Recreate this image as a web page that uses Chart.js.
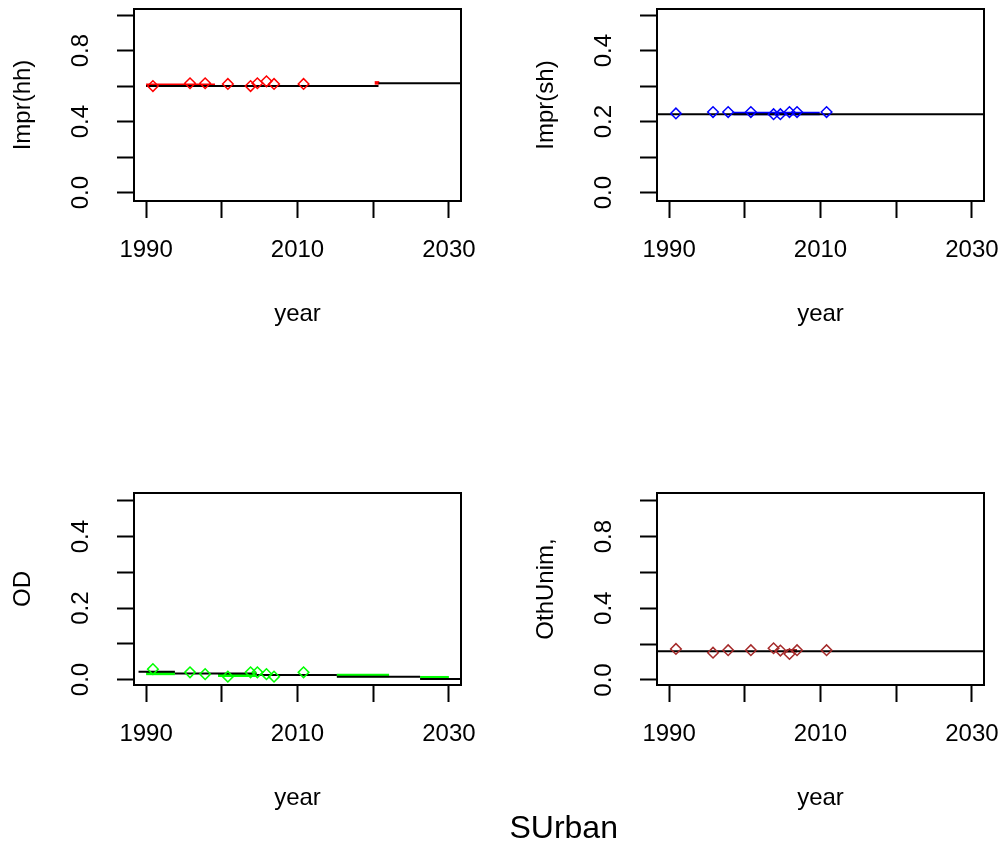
<!DOCTYPE html>
<html>
<head>
<meta charset="utf-8">
<script src="https://cdn.jsdelivr.net/npm/chart.js@4/dist/chart.umd.min.js"></script>
<style>
  html, body { margin: 0; padding: 0; background: #fff; }
  #wrap { position: relative; width: 1002px; height: 845px; overflow: hidden; background: #fff; }
  .panel { position: absolute; width: 479px; height: 345px; }
  #outerTitle {
    position: absolute; left: 463.7px; width: 200px; top: 811px;
    font-family: "Liberation Sans", Arial, sans-serif; font-size: 32px; line-height: 32px;
    text-align: center; color: #000;
  }
</style>
</head>
<body>
<div id="wrap">
  <canvas id="pHH" class="panel" width="479" height="345" style="left:0;top:0"></canvas>
  <canvas id="pSH" class="panel" width="479" height="345" style="left:523px;top:0"></canvas>
  <canvas id="pOD" class="panel" width="479" height="345" style="left:0;top:484px"></canvas>
  <canvas id="pOU" class="panel" width="479" height="345" style="left:523px;top:484px"></canvas>
  <div id="outerTitle">SUrban</div>
</div>
<script>
// Survey years (shared by all four indicators)
const surveyYears = [1990.9, 1995.8, 1997.8, 2000.8, 2003.8, 2004.7, 2005.9, 2006.9, 2010.8];

// Observed shares per indicator
const imprHH  = [0.600, 0.616, 0.616, 0.612, 0.600, 0.616, 0.627, 0.612, 0.612];
const imprSH  = [0.223, 0.227, 0.227, 0.227, 0.221, 0.221, 0.227, 0.227, 0.227];
const odShare = [0.029, 0.020, 0.015, 0.008, 0.020, 0.020, 0.015, 0.008, 0.020];
const othUnim = [0.173, 0.152, 0.166, 0.166, 0.177, 0.164, 0.145, 0.166, 0.166];

// Fitted trend pieces, each [fromYear, toYear, level]
const imprHHTrend = [[1990.0, 2020.7, 0.600], [2020.7, 2031.6, 0.616]];
const imprHHFit   = [[1990.0, 1999.1, 0.604], [2020.2, 2020.8, 0.618]];
const imprSHTrend = [[1988.4, 2031.6, 0.221]];
const imprSHFit   = [[1998.5, 2009.9, 0.223]];
const odTrend     = [[1989.0, 1993.8, 0.022], [1993.8, 2004.6, 0.017], [2004.6, 2015.2, 0.0126],
                     [2015.2, 2026.2, 0.0078], [2026.2, 2031.6, 0.0014]];
const odFit       = [[1990.0, 1993.8, 0.017], [1999.5, 2004.6, 0.0118], [2015.2, 2022.1, 0.011],
                     [2026.2, 2030.0, 0.005]];
const othTrend    = [[1988.4, 2031.6, 0.160]];
const othFit      = [[2005.5, 2006.9, 0.163]];

// Axis ticks and their printed labels
const yearTicks       = [1990, 2000, 2010, 2020, 2030];
const yearTickLabels  = ['1990', '', '2010', '', '2030'];
const unitTicks       = [0, 0.2, 0.4, 0.6, 0.8, 1.0];
const unitTickLabels  = ['0.0', '', '0.4', '', '0.8', ''];
const halfTicks       = [0, 0.1, 0.2, 0.3, 0.4, 0.5];
const halfTickLabels  = ['0.0', '', '0.2', '', '0.4', ''];

const FONT = '"Liberation Sans", Arial, Helvetica, sans-serif';
const INK = '#000';

// Plot frame around the data region
const framePlugin = {
  id: 'frame',
  afterDraw(chart) {
    const { ctx, chartArea: a } = chart;
    ctx.save();
    ctx.strokeStyle = INK;
    ctx.lineWidth = 2;
    ctx.strokeRect(a.left, a.top, a.right - a.left, a.bottom - a.top);
    ctx.restore();
  }
};

// Fixed axis sizes; label overhang must not shrink the plot region
function fixSize(prop, size) {
  return s => {
    s[prop] = size;
    s.paddingLeft = 0; s.paddingRight = 0; s.paddingTop = 0; s.paddingBottom = 0;
  };
}

function pieceSets(pieces, color, width, order) {
  return pieces.map(([x0, x1, v]) => ({
    data: [{ x: x0, y: v }, { x: x1, y: v }],
    showLine: true, borderColor: color, borderWidth: width,
    pointRadius: 0, pointHoverRadius: 0, fill: false, order
  }));
}

function drawPanel(id, o) {
  const tickFont = { family: FONT, size: 24, lineHeight: 1.2 };
  new Chart(document.getElementById(id), {
    type: 'scatter',
    data: {
      datasets: [
        {
          data: surveyYears.map((x, i) => ({ x, y: o.values[i] })),
          pointStyle: 'rectRot', pointRadius: 5.3, pointHoverRadius: 5.3,
          pointBorderWidth: 1.5, borderColor: o.color, backgroundColor: 'rgba(0,0,0,0)',
          showLine: false, order: 0
        },
        ...pieceSets(o.trend, INK, 2, 1),
        ...pieceSets(o.fit, o.color, 3.5, 2)
      ]
    },
    options: {
      responsive: false,
      animation: false,
      devicePixelRatio: 1,
      events: [],
      layout: { padding: { left: 0, top: 9, right: 18, bottom: 0 } },
      plugins: { legend: { display: false }, tooltip: { enabled: false } },
      scales: {
        x: {
          type: 'linear', position: 'bottom', min: 1988.4, max: 2031.6,
          afterBuildTicks: s => { s.ticks = yearTicks.map(v => ({ value: v })); },
          afterFit: fixSize('height', 144),
          border: { display: false },
          grid: { drawOnChartArea: false, drawTicks: true, tickLength: 17, tickWidth: 2, tickColor: INK },
          ticks: {
            color: INK, font: tickFont, padding: 17.6, autoSkip: false,
            minRotation: 0, maxRotation: 0,
            callback: (v, i) => yearTickLabels[i]
          },
          title: { display: true, text: 'year', color: INK, font: tickFont, padding: { top: 0, bottom: 16.2 } }
        },
        y: {
          type: 'linear', position: 'left', min: o.yMin, max: o.yMax,
          afterBuildTicks: s => { s.ticks = o.ticks.map(v => ({ value: v })); },
          afterFit: fixSize('width', 134),
          border: { display: false },
          grid: { drawOnChartArea: false, drawTicks: true, tickLength: 17, tickWidth: 2, tickColor: INK },
          ticks: {
            color: INK, font: tickFont, padding: 19.3, autoSkip: false,
            crossAlign: 'center', minRotation: 90, maxRotation: 90,
            callback: (v, i) => o.tickLabels[i]
          },
          title: { display: true, text: o.label, color: INK, font: tickFont, padding: { top: 9, bottom: 0 } }
        }
      }
    },
    plugins: [framePlugin]
  });
}

drawPanel('pHH', { values: imprHH, color: '#ff0000', trend: imprHHTrend, fit: imprHHFit,
  yMin: -0.047, yMax: 1.034, ticks: unitTicks, tickLabels: unitTickLabels, label: 'Impr(hh)' });
drawPanel('pSH', { values: imprSH, color: '#0000ff', trend: imprSHTrend, fit: imprSHFit,
  yMin: -0.0234, yMax: 0.517, ticks: halfTicks, tickLabels: halfTickLabels, label: 'Impr(sh)' });
drawPanel('pOD', { values: odShare, color: '#00ff00', trend: odTrend, fit: odFit,
  yMin: -0.0154, yMax: 0.522, ticks: halfTicks, tickLabels: halfTickLabels, label: 'OD' });
drawPanel('pOU', { values: othUnim, color: '#a52a2a', trend: othTrend, fit: othFit,
  yMin: -0.028, yMax: 1.043, ticks: unitTicks, tickLabels: unitTickLabels, label: 'OthUnim,' });
</script>
</body>
</html>
